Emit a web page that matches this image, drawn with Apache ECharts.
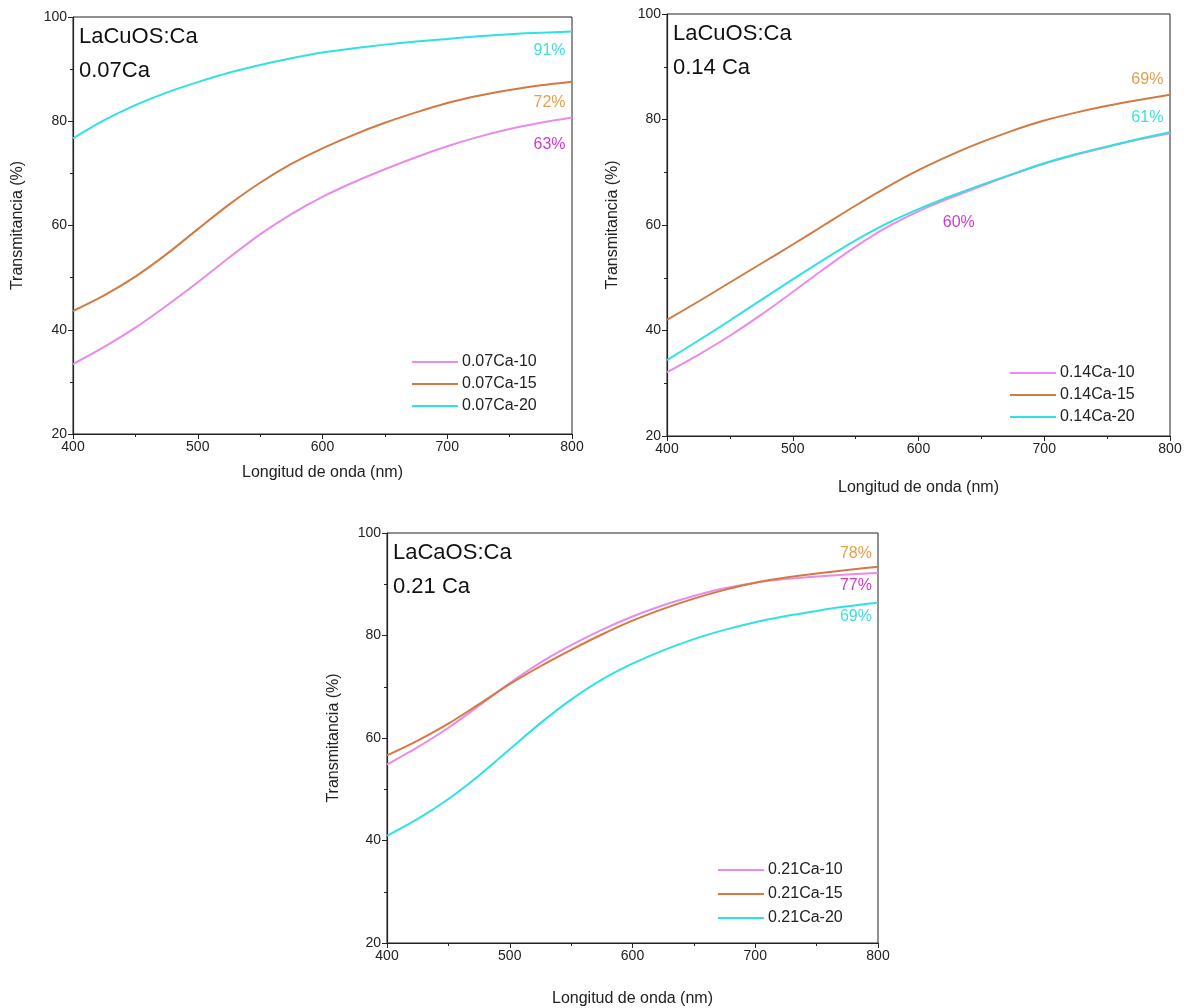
<!DOCTYPE html>
<html><head><meta charset="utf-8">
<script src="https://cdn.jsdelivr.net/npm/echarts@6/dist/echarts.min.js"></script>
<style>html,body{margin:0;padding:0;background:#fff}#c{width:1191px;height:1008px}</style>
</head><body><div id="c"></div>
<script>
const wavelengths = [400,425,450,475,500,525,550,575,600,625,650,675,700,725,750,775,800];
const xTicks = [400,500,600,700,800];
const yTicks = [20,40,60,80,100];

const s007_10 = [33.4,36.7,40.4,44.6,49.1,53.8,58.3,62.2,65.5,68.3,70.8,73.1,75.2,77.0,78.5,79.7,80.7];
const s007_15 = [43.6,46.6,50.2,54.5,59.3,64.0,68.2,71.8,74.8,77.4,79.7,81.7,83.5,84.9,86.0,86.9,87.6];
const s007_20 = [76.7,80.2,83.1,85.5,87.5,89.3,90.8,92.1,93.2,94.0,94.7,95.3,95.8,96.3,96.7,97.0,97.2];

const s014_10 = [32.1,35.4,39.0,43.0,47.3,51.7,55.9,59.6,62.6,65.1,67.4,69.6,71.6,73.3,74.8,76.2,77.4];
const s014_15 = [42.0,45.5,49.1,52.7,56.3,60.0,63.7,67.2,70.4,73.2,75.7,77.9,79.8,81.3,82.6,83.7,84.7];
const s014_20 = [34.4,38.1,41.9,45.8,49.7,53.5,57.1,60.3,63.0,65.4,67.6,69.7,71.7,73.4,74.9,76.3,77.6];

const s021_10 = [54.8,58.2,62.0,66.3,70.7,74.7,78.1,81.1,83.7,85.9,87.7,89.2,90.3,91.0,91.5,91.9,92.2];
const s021_15 = [56.6,59.5,62.8,66.6,70.5,74.0,77.2,80.2,82.9,85.2,87.2,88.9,90.3,91.3,92.1,92.8,93.4];
const s021_20 = [40.9,44.2,48.1,52.7,57.8,62.9,67.5,71.4,74.5,77.1,79.3,81.1,82.6,83.8,84.8,85.7,86.4];

const panelTitles = [["LaCuOS:Ca","0.07Ca"],["LaCuOS:Ca","0.14 Ca"],["LaCaOS:Ca","0.21 Ca"]];
const seriesNames = [["0.07Ca-10","0.07Ca-15","0.07Ca-20"],["0.14Ca-10","0.14Ca-15","0.14Ca-20"],["0.21Ca-10","0.21Ca-15","0.21Ca-20"]];
const seriesData = [[s007_10,s007_15,s007_20],[s014_10,s014_15,s014_20],[s021_10,s021_15,s021_20]];
// annotations: [panel, text, wavelength, value, colorIndex]
const annotations = [
  [0,"91%",782,93.5,2],[0,"72%",782,83.5,1],[0,"63%",782,75.5,0],
  [1,"69%",782,87.5,1],[1,"61%",782,80.3,2],[1,"60%",632,60.5,0],
  [2,"78%",782,96.0,1],[2,"77%",782,89.8,0],[2,"69%",782,83.7,2]
];

const lineColors = ["#e98be9","#d27a42","#2fe2e2"];
const annColors = ["#cc3ccc","#e3a04a","#3fdede"];
const FONT = "Liberation Sans, Arial, sans-serif";

const grids = [
  {left:73, top:17, width:499, height:417},
  {left:667, top:14, width:503, height:422},
  {left:387, top:533, width:491, height:410}
];
const xGaps = [31,44,48];
const yGaps = [47,46,45];
const legendPos = [{left:412, top:354, gap:6},{left:1010, top:365, gap:6},{left:718, top:862, gap:8}];

const chart = echarts.init(document.getElementById('c'));
const opt = {
  animation:false,
  grid: grids.map(g => Object.assign({show:true, borderColor:'#222', borderWidth:1, backgroundColor:'transparent'}, g)),
  xAxis: grids.map((g,i)=>({
    type:'value', gridIndex:i, min:400, max:800, interval:100,
    name:'Longitud de onda (nm)', nameLocation:'middle', nameGap:xGaps[i],
    nameTextStyle:{fontSize:16, color:'#222', fontFamily:FONT},
    axisLine:{show:true, onZero:false, lineStyle:{color:'#222', width:1.2}},
    axisTick:{show:true, inside:false, length:5, lineStyle:{color:'#222'}},
    minorTick:{show:true, splitNumber:2, length:3, lineStyle:{color:'#222'}},
    splitLine:{show:false},
    axisLabel:{fontSize:14, color:'#222', fontFamily:FONT, margin:6}
  })),
  yAxis: grids.map((g,i)=>({
    type:'value', gridIndex:i, min:20, max:100, interval:20,
    name:'Transmitancia (%)', nameLocation:'middle', nameGap:yGaps[i],
    nameTextStyle:{fontSize:16, color:'#222', fontFamily:FONT},
    axisLine:{show:true, onZero:false, lineStyle:{color:'#222', width:1.2}},
    axisTick:{show:true, inside:false, length:5, lineStyle:{color:'#222'}},
    minorTick:{show:true, splitNumber:2, length:3, lineStyle:{color:'#222'}},
    splitLine:{show:false},
    axisLabel:{fontSize:14, color:'#222', fontFamily:FONT, margin:6}
  })),
  legend: legendPos.map((p,i)=>({
    left:p.left, top:p.top, orient:'vertical', itemGap:p.gap, padding:0,
    itemWidth:46, itemHeight:2, icon:'rect',
    data: seriesNames[i],
    textStyle:{fontSize:16, color:'#222', fontFamily:FONT, padding:[0,0,0,-1]},
    selectedMode:false
  })),
  series: [],
  graphic: []
};
seriesData.forEach((panel,i)=>{
  panel.forEach((vals,k)=>{
    opt.series.push({
      type:'line', name:seriesNames[i][k], xAxisIndex:i, yAxisIndex:i,
      data: wavelengths.map((w,j)=>[w, vals[j]]),
      smooth:0.3, showSymbol:false, symbol:'none',
      lineStyle:{color:lineColors[k], width:2}, itemStyle:{color:lineColors[k]}
    });
  });
});
chart.setOption(opt);

const gfx = [];
panelTitles.forEach((t,i)=>{
  const g = grids[i];
  gfx.push({type:'text', left:g.left+6, top:g.top+9, style:{text:t[0], font:'22px '+FONT, fill:'#111'}});
  gfx.push({type:'text', left:g.left+6, top:g.top+43, style:{text:t[1], font:'22px '+FONT, fill:'#111'}});
});
annotations.forEach(a=>{
  const p = chart.convertToPixel({xAxisIndex:a[0], yAxisIndex:a[0]}, [a[2], a[3]]);
  gfx.push({type:'text', x:p[0], y:p[1], style:{text:a[1], font:'16px '+FONT, fill:annColors[a[4]], align:'center', verticalAlign:'middle'}});
});
chart.setOption({graphic:gfx});
</script></body></html>
